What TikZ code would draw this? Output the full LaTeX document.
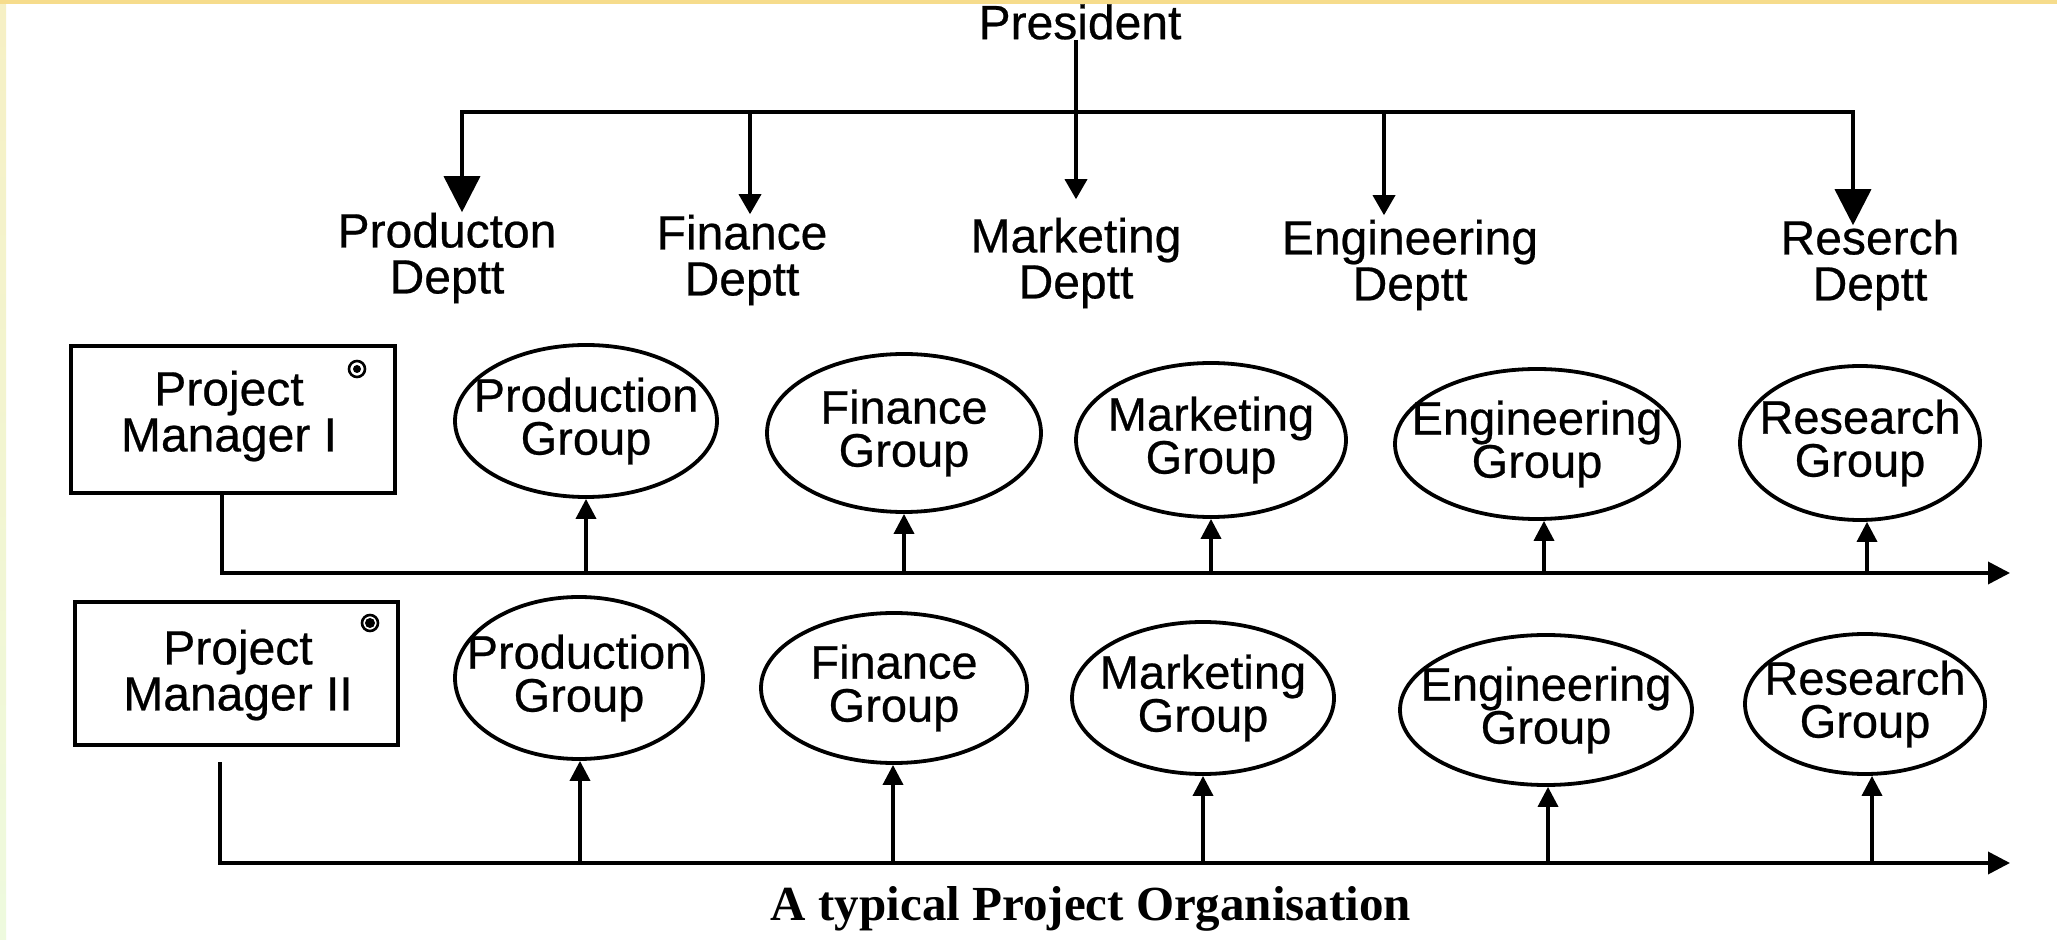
\documentclass[tikz,border=0pt]{standalone}
\usepackage{fontspec}
\setmainfont{Liberation Sans}[FakeBold=0.5]
\newfontfamily\capfont{Liberation Serif}
\usetikzlibrary{shapes.geometric,arrows.meta,calc}
\definecolor{bandtop}{RGB}{246,220,140}
\definecolor{bandleft}{RGB}{246,240,196}
\definecolor{bandleftb}{RGB}{238,250,222}
\tikzset{
  txt/.style={font=\fontsize{24}{23}\selectfont, align=center, inner sep=0pt},
  grp/.style={ellipse, draw, line width=1.9pt, inner sep=0pt},
  gtext/.style={font=\fontsize{23.5}{21.5}\selectfont, align=center, inner sep=0pt},
  pmbox/.style={draw, line width=2.2pt, inner sep=0pt},
  ln/.style={line width=1.8pt, line join=miter},
  bigtip/.style={-{Triangle[width=18pt,length=18pt]}},
  smalltip/.style={-{Triangle[width=11pt,length=10pt]}},
  uptip/.style={-{Triangle[width=10pt,length=10pt]}},
  bustip/.style={-{Triangle[width=11pt,length=11pt]}},
}
\newcommand\grpnode[6]{\node[grp, minimum width=#4pt, minimum height=#5pt,
  label={[gtext]center:{#6}}] (#1) at (#2,#3) {};}
\begin{document}
\begin{tikzpicture}[x=0.5pt,y=-0.5pt]
\useasboundingbox (0,0) rectangle (2057,940);
\fill[white] (0,0) rectangle (2057,940);
\shade[top color=bandleft, bottom color=bandleftb] (0,0) rectangle (6,940);
\fill[bandtop] (0,0) rectangle (2057,4);

% President and departments
\node[txt] (pres) at (1080,22) {President};
\node[txt] (d1) at (447,258) {Producton\\Deptt};
\node[txt] (d2) at (742,260) {Finance\\Deptt};
\node[txt] (d3) at (1076,263) {Marketing\\Deptt};
\node[txt] (d4) at (1410,265) {Engineering\\Deptt};
\node[txt] (d5) at (1870,265) {Reserch\\Deptt};

\coordinate (a1) at (462,112);
\coordinate (a2) at (750,112);
\coordinate (a3) at (1076,112);
\coordinate (a4) at (1384,112);
\coordinate (a5) at (1853,112);

\draw[ln,bigtip] (a3) -- (a1) -- (a1 |- d1.north);
\draw[ln,bigtip,shorten >=-3pt] (a3) -- (a5) -- (a5 |- d5.north);
\draw[ln,smalltip] (a2) -- (a2 |- d2.north);
\draw[ln,smalltip,shorten >=9pt] (pres.south -| a3) -- (a3 |- d3.north);
\draw[ln,smalltip,shorten >=2pt] (a4) -- (a4 |- d4.north);

% Project managers
\node[pmbox, minimum width=162pt, minimum height=73.5pt] (pm1) at (233,419.5) {};
\node[txt] (pm1t) at (229,416) {Project\\Manager I};
\node[pmbox, minimum width=161.5pt, minimum height=71.5pt] (pm2) at (236.5,673.5) {};
\node[txt] (pm2t) at (238,675) {Project\\Manager II};
\node[circle, draw, line width=1.3pt, minimum size=8pt, inner sep=0pt] (ic1) at (357,369) {};
\fill (ic1) circle (2pt);
\node[circle, draw, line width=1.3pt, minimum size=8pt, inner sep=0pt] (ic2) at (370,623) {};
\fill (ic2) circle (2.5pt);

% Row 1 groups
\grpnode{g11}{586}{421}{131}{76}{Production\\Group}
\grpnode{g12}{904}{433}{137}{79}{Finance\\Group}
\grpnode{g13}{1211}{440}{135}{77}{Marketing\\Group}
\grpnode{g14}{1537}{444}{142}{75}{Engineering\\Group}
\grpnode{g15}{1860}{443}{120}{77}{Research\\Group}

% Row 2 groups
\grpnode{g21}{579}{678}{124}{81}{Production\\Group}
\grpnode{g22}{894}{688}{133}{75}{Finance\\Group}
\grpnode{g23}{1203}{698}{131}{76}{Marketing\\Group}
\grpnode{g24}{1546}{710}{146}{75}{Engineering\\Group}
\grpnode{g25}{1865}{704}{120}{70}{Research\\Group}

% Row 1 bus
\coordinate (c1) at (222,573);
\coordinate (e1) at (2010,573);
\draw[ln,bustip] (pm1.south -| c1) -- (c1) -- (e1);
\foreach \g/\x in {g11/586,g12/904,g13/1211,g14/1544,g15/1867}{
  \draw[ln,uptip] (\x,573) -- (\x,573 |- \g.south);
}

% Row 2 bus
\coordinate (c2) at (220,863);
\coordinate (e2) at (2010,863);
\draw[ln,bustip] ($(pm2.south -| c2)+(0,15)$) -- (c2) -- (e2);
\foreach \g/\x in {g21/580,g22/893,g23/1203,g24/1548,g25/1872}{
  \draw[ln,uptip] (\x,863) -- (\x,863 |- \g.south);
}

% Caption
\node[font=\capfont\bfseries\fontsize{24.5}{26}\selectfont, inner sep=0pt] (cap) at (1091,909) {A typical Project Organisation};
\end{tikzpicture}
\end{document}
